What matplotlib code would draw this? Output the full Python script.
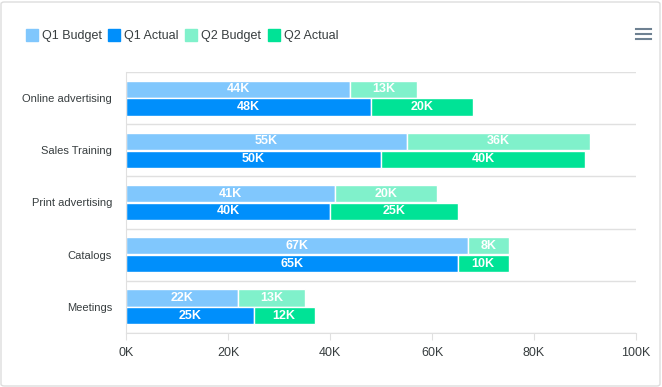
import numpy as np
import matplotlib
matplotlib.use("Agg")
import matplotlib.pyplot as plt
from matplotlib.patches import FancyBboxPatch
from matplotlib.lines import Line2D

plt.rcParams['font.family'] = ['Liberation Sans', 'DejaVu Sans']

# data
categories = ["Online advertising", "Sales Training", "Print advertising", "Catalogs", "Meetings"]
q1_budget = [44, 55, 41, 67, 22]
q2_budget = [13, 36, 20, 8, 13]
q1_actual = [48, 50, 40, 65, 25]
q2_actual = [20, 40, 25, 10, 12]
xticks = [0, 20, 40, 60, 80, 100]

c_q1b = "#80c7fd"
c_q1a = "#008ffb"
c_q2b = "#80f1cb"
c_q2a = "#00e396"

W, H = 662, 387
fig = plt.figure(figsize=(W / 100, H / 100), dpi=100)
ax = fig.add_axes([126 / W, 1 - 333 / H, 510 / W, 261 / H])

n = len(categories)
y = np.arange(n)
bh = 0.33
off = 0.17

def bars(yy, vals, left, color):
    b = ax.barh(yy, vals, height=bh, left=left, color=color, edgecolor="white", linewidth=1)
    for rect, v in zip(b, vals):
        ax.text(rect.get_x() + rect.get_width() / 2, rect.get_y() + rect.get_height() / 2,
                f"{v}K", ha="center", va="center", color="white", fontsize=9, fontweight="bold")

bars(y - off, q1_budget, 0, c_q1b)
bars(y - off, q2_budget, q1_budget, c_q2b)
bars(y + off, q1_actual, 0, c_q1a)
bars(y + off, q2_actual, q1_actual, c_q2a)

ax.set_ylim(n - 0.5, -0.5)
ax.set_xlim(0, 100)
ax.set_yticks(y)
ax.set_yticklabels(categories, fontsize=8, color="#373d3f")
ax.set_xticks(xticks)
ax.set_xticklabels([f"{t}K" for t in xticks], fontsize=9, color="#373d3f")
ax.tick_params(axis="y", length=0, pad=10)
ax.tick_params(axis="x", length=5, color="#e0e0e0", pad=5)

for b in np.arange(-0.5, n, 1.0):
    ax.axhline(b, color="#e0e0e0", linewidth=1, zorder=0)
for s in ["top", "right"]:
    ax.spines[s].set_visible(False)
ax.spines["left"].set_color("#e0e0e0")
ax.spines["bottom"].set_color("#e0e0e0")

# legend
handles = [Line2D([], [], marker="s", linestyle="none", markersize=9, color=c)
           for c in [c_q1b, c_q1a, c_q2b, c_q2a]]
fig.legend(handles, ["Q1 Budget", "Q1 Actual", "Q2 Budget", "Q2 Actual"], ncol=4,
           loc="center left", bbox_to_anchor=(14 / W, 1 - 36 / H), frameon=False,
           fontsize=9, handletextpad=0.3, columnspacing=0.5, handlelength=1.0,
           labelcolor="#373d3f")

# menu icon
for yy in [29, 34, 39]:
    fig.add_artist(Line2D([636 / W, 651 / W], [1 - yy / H, 1 - yy / H], color="#6e8192", linewidth=1.5))

# border
fig.add_artist(FancyBboxPatch((1 / W, 1 / H), 659 / W, 384 / H, boxstyle="round,pad=0,rounding_size=0.005",
                              transform=fig.transFigure, fill=False, edgecolor="#dddddd", linewidth=1))

fig.savefig("out.png", dpi=100)
